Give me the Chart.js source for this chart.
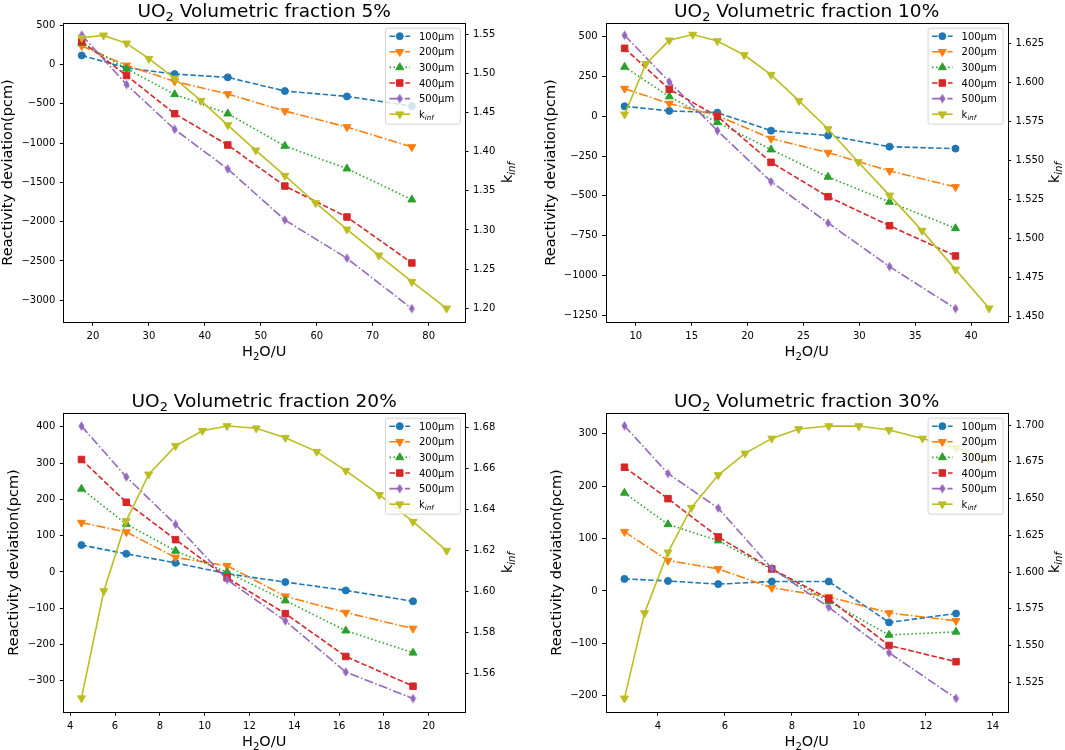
<!DOCTYPE html>
<html><head><meta charset="utf-8">
<script src="https://cdn.jsdelivr.net/npm/chart.js@4.4.0/dist/chart.umd.min.js"></script>
<style>
html,body{margin:0;padding:0;background:#fff;}
#wrap{position:relative;width:1065px;height:750px;overflow:hidden;background:#fff;}
canvas{position:absolute;}
</style></head><body><div id="wrap">
<canvas id="c1" width="535" height="375" style="left:0px;top:0px"></canvas>
<canvas id="c2" width="530" height="375" style="left:535px;top:0px"></canvas>
<canvas id="c3" width="535" height="375" style="left:0px;top:375px"></canvas>
<canvas id="c4" width="530" height="375" style="left:535px;top:375px"></canvas>
</div>
<script>
// ---------------- DATA ----------------
const seriesLabels = ['100µm', '200µm', '300µm', '400µm', '500µm'];

// UO2 volumetric fraction 5%
const vf5_x    = [18.0, 26.0, 34.6, 44.1, 54.3, 65.4, 77.0];
const vf5_r100 = [114, -45, -123, -165, -339, -407, -530];
const vf5_r200 = [235, -13, -216, -377, -593, -797, -1051];
const vf5_r300 = [270, -55, -381, -627, -1038, -1326, -1720];
const vf5_r400 = [290, -142, -627, -1025, -1547, -1941, -2525];
const vf5_r500 = [372, -256, -826, -1330, -1979, -2466, -3106];
const vf5_kx   = [18.0, 21.9, 26.0, 30.0, 34.6, 39.3, 44.1, 49.1, 54.3, 59.8, 65.4, 71.1, 77.0, 83.2];
const vf5_k    = [1.5457, 1.5487, 1.5385, 1.5189, 1.4938, 1.4652, 1.4341, 1.4018, 1.3694, 1.3345, 1.3008, 1.2676, 1.2339, 1.1998];
const vf5_xTicks = [20, 30, 40, 50, 60, 70, 80];
const vf5_yTicks = [500, 0, -500, -1000, -1500, -2000, -2500, -3000];
const vf5_kTicks = [1.20, 1.25, 1.30, 1.35, 1.40, 1.45, 1.50, 1.55];

// UO2 volumetric fraction 10%
const vf10_x    = [9.0, 13.0, 17.3, 22.1, 27.2, 32.7, 38.6];
const vf10_r100 = [63, 34, 23, -90, -121, -191, -203];
const vf10_r200 = [174, 80, 4, -140, -228, -343, -444];
const vf10_r300 = [310, 124, -38, -209, -381, -538, -704];
const vf10_r400 = [427, 170, 0, -289, -505, -687, -877];
const vf10_r500 = [509, 216, -90, -410, -670, -944, -1208];
const vf10_kx   = [9.0, 10.9, 13.0, 15.1, 17.3, 19.7, 22.1, 24.6, 27.2, 29.9, 32.7, 35.6, 38.6, 41.6];
const vf10_k    = [1.5795, 1.6118, 1.6269, 1.6306, 1.6265, 1.6175, 1.6049, 1.5881, 1.5701, 1.5490, 1.5276, 1.5050, 1.4802, 1.4553];
const vf10_xTicks = [10, 15, 20, 25, 30, 35, 40];
const vf10_yTicks = [500, 250, 0, -250, -500, -750, -1000, -1250];
const vf10_kTicks = [1.450, 1.475, 1.500, 1.525, 1.550, 1.575, 1.600, 1.625];

// UO2 volumetric fraction 20%
const vf20_x    = [4.5, 6.5, 8.7, 11.0, 13.6, 16.3, 19.3];
const vf20_r100 = [74, 50, 25, -5, -28, -51, -81];
const vf20_r200 = [136, 110, 40, 17, -67, -112, -156];
const vf20_r300 = [229, 132, 58, -1, -79, -162, -223];
const vf20_r400 = [310, 192, 89, -16, -115, -233, -315];
const vf20_r500 = [402, 262, 131, -21, -135, -276, -349];
const vf20_kx   = [4.5, 5.5, 6.5, 7.5, 8.7, 9.9, 11.0, 12.3, 13.6, 15.0, 16.3, 17.8, 19.3, 20.8];
const vf20_k    = [1.5480, 1.6003, 1.6345, 1.6572, 1.6711, 1.6785, 1.6808, 1.6797, 1.6751, 1.6683, 1.6590, 1.6472, 1.6341, 1.6200];
const vf20_xTicks = [4, 6, 8, 10, 12, 14, 16, 18, 20];
const vf20_yTicks = [400, 300, 200, 100, 0, -100, -200, -300];
const vf20_kTicks = [1.56, 1.58, 1.60, 1.62, 1.64, 1.66, 1.68];

// UO2 volumetric fraction 30%
const vf30_x    = [3.0, 4.3, 5.8, 7.4, 9.1, 10.9, 12.9];
const vf30_r100 = [23, 19, 13, 18, 18, -60, -43];
const vf30_r200 = [113, 58, 42, 6, -11, -42, -57];
const vf30_r300 = [187, 127, 96, 41, -20, -84, -78];
const vf30_r400 = [236, 176, 103, 42, -15, -104, -135];
const vf30_r500 = [315, 224, 158, 43, -31, -118, -205];
const vf30_kx   = [3.0, 3.6, 4.3, 5.0, 5.8, 6.6, 7.4, 8.2, 9.1, 10.0, 10.9, 11.9, 12.9, 13.9];
const vf30_k    = [1.5141, 1.5721, 1.6134, 1.6438, 1.6660, 1.6807, 1.6909, 1.6973, 1.6993, 1.6993, 1.6966, 1.6909, 1.6844, 1.6755];
const vf30_xTicks = [4, 6, 8, 10, 12, 14];
const vf30_yTicks = [300, 200, 100, 0, -100, -200];
const vf30_kTicks = [1.525, 1.550, 1.575, 1.600, 1.625, 1.650, 1.675, 1.700];

// ---------------- STYLE ----------------
const FONT = '"DejaVu Sans", "Liberation Sans", sans-serif';
const COL = ['#1f77b4', '#ff7f0e', '#2ca02c', '#d62728', '#9467bd'];
const KCOL = '#bcbd22';
const LW = 1.6;
const DASH_DASHED = [5.5, 2.4];
const DASH_DASHDOT = [9, 2.4, 1.5, 2.4];
const DASH_DOT = [1.5, 2.5];

function thinDiamond(color) {
  const c = document.createElement('canvas');
  c.width = 7; c.height = 10;
  const g = c.getContext('2d');
  g.fillStyle = color;
  g.beginPath(); g.moveTo(3.5, 0.2); g.lineTo(6.5, 5); g.lineTo(3.5, 9.8); g.lineTo(0.5, 5); g.closePath(); g.fill();
  return c;
}
const DIAMOND = thinDiamond(COL[4]);

const seriesStyle = [
  { dash: DASH_DASHED,  ps: 'circle',   rot: 0,   r: 3.5 },
  { dash: DASH_DASHDOT, ps: 'triangle', rot: 180, r: 4.6 },
  { dash: DASH_DOT,     ps: 'triangle', rot: 0,   r: 4.6 },
  { dash: DASH_DASHED,  ps: 'rect',     rot: 0,   r: 4.6 },
  { dash: DASH_DASHDOT, ps: DIAMOND,    rot: 0,   r: 5 }
];

function fmtNum(v, dec) {
  const s = Math.abs(v).toFixed(dec);
  return (v < 0 ? '\u2212' : '') + s;
}

function drawRich(ctx, parts, x, y, size, align) {
  const meas = [];
  let total = 0;
  for (const p of parts) {
    const fs = p.sub ? size * 0.7 : size;
    const f = (p.italic ? 'italic ' : '') + fs + 'px ' + FONT;
    ctx.font = f;
    const w = ctx.measureText(p.t).width;
    meas.push({ p, f, w });
    total += w;
  }
  let cx = align === 'center' ? x - total / 2 : x;
  ctx.textAlign = 'left';
  ctx.textBaseline = 'alphabetic';
  for (const m of meas) {
    ctx.font = m.f;
    ctx.fillText(m.p.t, cx, y + (m.p.sub ? size * 0.24 : 0));
    cx += m.w;
  }
}

function drawMarker(ctx, st, color, x, y) {
  if (typeof st.ps !== 'string') {
    ctx.drawImage(st.ps, x - st.ps.width / 2, y - st.ps.height / 2);
    return;
  }
  ctx.save();
  ctx.setLineDash([]);
  ctx.fillStyle = color; ctx.strokeStyle = color; ctx.lineWidth = 1;
  ctx.translate(x, y);
  ctx.rotate(st.rot * Math.PI / 180);
  ctx.beginPath();
  if (st.ps === 'circle') {
    ctx.arc(0, 0, st.r, 0, Math.PI * 2);
  } else if (st.ps === 'rect') {
    const s = st.r * Math.SQRT1_2;
    ctx.rect(-s, -s, 2 * s, 2 * s);
  } else if (st.ps === 'triangle') {
    const r = st.r;
    ctx.moveTo(0, -r);
    ctx.lineTo(r * Math.sin(2 * Math.PI / 3), -r * Math.cos(2 * Math.PI / 3));
    ctx.lineTo(r * Math.sin(4 * Math.PI / 3), -r * Math.cos(4 * Math.PI / 3));
    ctx.closePath();
  }
  ctx.fill(); ctx.stroke();
  ctx.restore();
}

function makeChart(id, p) {
  const canvas = document.getElementById(id);
  const W = canvas.width, H = canvas.height;
  const A = p.area;
  const datasets = [];
  const ys = [p.r100, p.r200, p.r300, p.r400, p.r500];
  ys.forEach((arr, i) => {
    const st = seriesStyle[i];
    datasets.push({
      label: seriesLabels[i],
      data: p.x.map((xv, j) => ({ x: xv, y: arr[j] })),
      yAxisID: 'y',
      borderColor: COL[i],
      backgroundColor: COL[i],
      borderWidth: LW,
      borderDash: st.dash,
      pointStyle: st.ps,
      pointRotation: st.rot,
      pointRadius: st.r,
      pointBorderWidth: 1,
      pointBackgroundColor: COL[i],
      pointBorderColor: COL[i],
      tension: 0,
      order: 5 - i
    });
  });
  datasets.push({
    label: 'kinf',
    data: p.kx.map((xv, j) => ({ x: xv, y: p.k[j] })),
    yAxisID: 'y1',
    borderColor: KCOL,
    backgroundColor: KCOL,
    borderWidth: LW,
    pointStyle: 'triangle',
    pointRotation: 180,
    pointRadius: 4.6,
    pointBorderWidth: 1,
    pointBackgroundColor: KCOL,
    pointBorderColor: KCOL,
    tension: 0,
    order: 0
  });

  const tickFont = { family: FONT, size: 10 };
  const gridOpt = { display: true, drawOnChartArea: false, drawTicks: true, tickLength: 3.5, tickWidth: 1, tickColor: '#000' };

  const overlay = {
    id: 'overlay' + id,
    afterDraw(chart) {
      const ctx = chart.ctx;
      const a = chart.chartArea;
      ctx.save();
      // frame
      ctx.strokeStyle = '#000'; ctx.lineWidth = 1; ctx.setLineDash([]);
      ctx.strokeRect(Math.round(a.left) + 0.5, Math.round(a.top) + 0.5, Math.round(a.right) - Math.round(a.left), Math.round(a.bottom) - Math.round(a.top));
      ctx.fillStyle = '#000';
      const cxm = (a.left + a.right) / 2, cym = (a.top + a.bottom) / 2;
      // title
      drawRich(ctx, [{ t: 'UO' }, { t: '2', sub: true }, { t: ' Volumetric fraction ' + p.pct }], cxm, a.top - 6, 18.5, 'center');
      // x label
      drawRich(ctx, [{ t: 'H' }, { t: '2', sub: true }, { t: 'O/U' }], cxm, a.bottom + 34, 14.5, 'center');
      // left y label
      ctx.save();
      ctx.translate(a.left - p.yLabOff, cym);
      ctx.rotate(-Math.PI / 2);
      drawRich(ctx, [{ t: 'Reactivity deviation(pcm)' }], 0, 0, 14.5, 'center');
      ctx.restore();
      // right y label
      ctx.save();
      ctx.translate(a.right + p.kLabOff, cym);
      ctx.rotate(-Math.PI / 2);
      drawRich(ctx, [{ t: 'k' }, { t: 'inf', sub: true, italic: true }], 0, 0, 14.5, 'center');
      ctx.restore();

      // legend
      const lw = 75, lh = 96;
      const lx = a.right - 5 - lw, ly = a.top + 5;
      ctx.save();
      ctx.fillStyle = 'rgba(255,255,255,0.8)';
      ctx.strokeStyle = 'rgba(204,204,204,0.8)';
      ctx.lineWidth = 1;
      ctx.beginPath();
      if (ctx.roundRect) ctx.roundRect(lx + 0.5, ly + 0.5, lw, lh, 2); else ctx.rect(lx + 0.5, ly + 0.5, lw, lh);
      ctx.fill(); ctx.stroke();
      ctx.restore();
      for (let i = 0; i < 6; i++) {
        const rowY = ly + 8.5 + i * 15.6;
        const x0 = lx + 4.5, x1 = lx + 25;
        ctx.save();
        const isK = i === 5;
        const color = isK ? KCOL : COL[i];
        ctx.strokeStyle = color;
        ctx.lineWidth = LW;
        ctx.setLineDash(isK ? [] : seriesStyle[i].dash);
        ctx.beginPath(); ctx.moveTo(x0, rowY); ctx.lineTo(x1, rowY); ctx.stroke();
        ctx.restore();
        const st = isK ? { ps: 'triangle', rot: 180, r: 4.6 } : seriesStyle[i];
        drawMarker(ctx, st, color, (x0 + x1) / 2, rowY);
        ctx.fillStyle = '#000';
        if (isK) {
          drawRich(ctx, [{ t: 'k' }, { t: 'inf', sub: true, italic: true }], lx + 34, rowY + 3.6, 10, 'left');
        } else {
          drawRich(ctx, [{ t: seriesLabels[i] }], lx + 34, rowY + 3.6, 10, 'left');
        }
      }
      ctx.restore();
    }
  };

  return new Chart(canvas, {
    type: 'line',
    data: { datasets },
    options: {
      responsive: false,
      animation: false,
      devicePixelRatio: 1,
      layout: { padding: { top: A.top, left: 0, right: 0, bottom: 0 } },
      plugins: { legend: { display: false }, tooltip: { enabled: false }, title: { display: false } },
      elements: { line: { fill: false } },
      scales: {
        x: {
          type: 'linear', position: 'bottom', min: p.xMin, max: p.xMax,
          grid: gridOpt, border: { display: false },
          afterBuildTicks: s => { s.ticks = p.xTicks.map(v => ({ value: v })); },
          afterFit: s => { s.height = H - A.bottom; },
          ticks: { font: tickFont, color: '#000', padding: 4.5, maxRotation: 0, autoSkip: false, callback: v => fmtNum(v, 0) }
        },
        y: {
          type: 'linear', position: 'left', min: p.yMin, max: p.yMax,
          grid: gridOpt, border: { display: false },
          afterBuildTicks: s => { s.ticks = p.yTicks.map(v => ({ value: v })); },
          afterFit: s => { s.width = A.left; },
          ticks: { font: tickFont, color: '#000', padding: 4.5, autoSkip: false, callback: v => fmtNum(v, 0) }
        },
        y1: {
          type: 'linear', position: 'right', min: p.kMin, max: p.kMax,
          grid: gridOpt, border: { display: false },
          afterBuildTicks: s => { s.ticks = p.kTicks.map(v => ({ value: v })); },
          afterFit: s => { s.width = W - A.right; },
          ticks: { font: tickFont, color: '#000', padding: 4.5, autoSkip: false, callback: v => fmtNum(v, p.kDec) }
        }
      }
    },
    plugins: [overlay]
  });
}

makeChart('c1', {
  pct: '5%', area: { left: 63.3, right: 465, top: 22.7, bottom: 322.3 },
  x: vf5_x, r100: vf5_r100, r200: vf5_r200, r300: vf5_r300, r400: vf5_r400, r500: vf5_r500,
  kx: vf5_kx, k: vf5_k, xTicks: vf5_xTicks, yTicks: vf5_yTicks, kTicks: vf5_kTicks, kDec: 2,
  xMin: 14.7, xMax: 86.5, yMin: -3280, yMax: 530, kMin: 1.182, kMax: 1.5649,
  yLabOff: 51, kLabOff: 46.7
});
makeChart('c2', {
  pct: '10%', area: { left: 70.7, right: 472.6, top: 22.7, bottom: 322.3 },
  x: vf10_x, r100: vf10_r100, r200: vf10_r200, r300: vf10_r300, r400: vf10_r400, r500: vf10_r500,
  kx: vf10_kx, k: vf10_k, xTicks: vf10_xTicks, yTicks: vf10_yTicks, kTicks: vf10_kTicks, kDec: 3,
  xMin: 7.31, xMax: 43.26, yMin: -1294, yMax: 588, kMin: 1.4463, kMax: 1.6382,
  yLabOff: 51, kLabOff: 51.4
});
makeChart('c3', {
  pct: '20%', area: { left: 63.3, right: 465, top: 37.7, bottom: 337.3 },
  x: vf20_x, r100: vf20_r100, r200: vf20_r200, r300: vf20_r300, r400: vf20_r400, r500: vf20_r500,
  kx: vf20_kx, k: vf20_k, xTicks: vf20_xTicks, yTicks: vf20_yTicks, kTicks: vf20_kTicks, kDec: 2,
  xMin: 3.69, xMax: 21.62, yMin: -387, yMax: 439, kMin: 1.5411, kMax: 1.6873,
  yLabOff: 45, kLabOff: 46.7
});
makeChart('c4', {
  pct: '30%', area: { left: 70.7, right: 472.6, top: 37.7, bottom: 337.3 },
  x: vf30_x, r100: vf30_r100, r200: vf30_r200, r300: vf30_r300, r400: vf30_r400, r500: vf30_r500,
  kx: vf30_kx, k: vf30_k, xTicks: vf30_xTicks, yTicks: vf30_yTicks, kTicks: vf30_kTicks, kDec: 3,
  xMin: 2.44, xMax: 14.44, yMin: -231.5, yMax: 340, kMin: 1.5046, kMax: 1.7084,
  yLabOff: 45, kLabOff: 51.4
});
</script>
</body></html>
